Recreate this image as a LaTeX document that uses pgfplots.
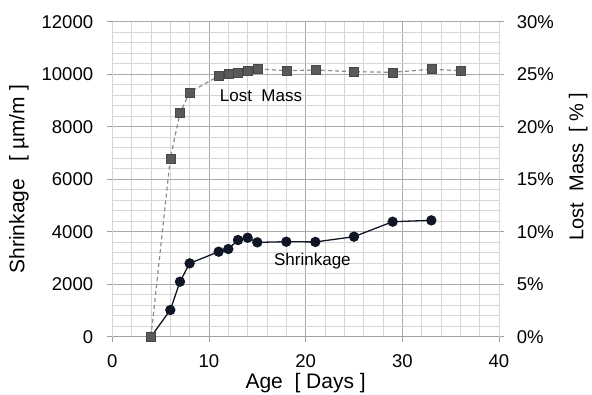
\documentclass[border=0pt]{standalone}
\usepackage{fontspec}
\setmainfont{Liberation Sans}
\usepackage{pgfplots}
\pgfplotsset{compat=1.18}

\definecolor{shrk}{RGB}{16,22,38}
\definecolor{massfill}{RGB}{89,89,89}
\definecolor{massline}{RGB}{140,140,140}
\definecolor{gridmin}{RGB}{214,214,214}
\definecolor{gridmaj}{RGB}{170,170,170}
\definecolor{axgray}{RGB}{160,160,160}

\begin{document}
\begin{tikzpicture}[x=1pt,y=1pt]
\useasboundingbox (0,0) rectangle (592,394);
\begin{axis}[
  at={(112.3pt,57.3pt)}, anchor=south west,
  scale only axis, width=386.7pt, height=315pt,
  xmin=0, xmax=40, ymin=0, ymax=12000,
  clip=false,
  scaled y ticks=false, scaled x ticks=false,
  axis x line*=bottom, axis y line*=left,
  xtick={0,10,20,30,40}, ytick={0,2000,...,12000},
  minor x tick num=4, minor y tick num=4,
  grid=both,
  major grid style={draw=gridmaj, line width=0.9pt},
  minor grid style={draw=gridmin, line width=0.9pt},
  tick align=outside, major tick length=5pt, minor tick length=0pt,
  tick style={draw=axgray, line width=0.8pt},
  x axis line style={draw=axgray, line width=0.9pt, -},
  y axis line style={draw=gridmin, line width=0.9pt, -},
  tick label style={font=\fontsize{18.5}{18.5}\selectfont, text=black},
  /pgf/number format/assume math mode=true,
  /pgf/number format/1000 sep={},
  yticklabel style={anchor=east, inner sep=0pt, xshift=-14pt},
  xticklabel style={anchor=north, inner sep=0pt, yshift=-12.3pt},
  xlabel={Age~~[ Days ]},
  xlabel style={at={(axis description cs:0.5,0)}, anchor=base, yshift=-51.6pt, font=\fontsize{21}{21}\selectfont},
  ylabel={Shrinkage~~~[ µm/m ]},
  ylabel style={at={(axis description cs:-0.2271,0.5)}, anchor=base, font=\fontsize{21}{21}\selectfont},
]
\addplot[color=shrk, line width=1.3pt, mark=*, mark size=4.5pt, mark options={fill=shrk, draw=shrk, solid}]
coordinates {(4,0) (6,1016) (7,2095) (8,2794) (11,3238) (12,3340) (13,3683) (14,3771) (15,3594) (18,3619) (21,3610) (25,3810) (29,4381) (33,4432)};
\node[font=\fontsize{17}{17}\selectfont, inner sep=0pt] at (axis cs:15.38,9189) {Lost~~Mass};
\node[font=\fontsize{17}{17}\selectfont, inner sep=0pt] at (axis cs:20.7,2865) {Shrinkage};
\end{axis}
\begin{axis}[
  at={(112.3pt,57.3pt)}, anchor=south west,
  scale only axis, width=386.7pt, height=315pt,
  xmin=0, xmax=40, ymin=0, ymax=30,
  clip=false,
  hide x axis, axis y line*=right,
  ytick={0,5,...,30},
  yticklabel={\pgfmathprintnumber{\tick}\%},
  tick align=outside, major tick length=5pt, minor tick length=0pt,
  tick style={draw=axgray, line width=0.8pt},
  y axis line style={draw=gridmin, line width=0.9pt, -},
  tick label style={font=\fontsize{18.5}{18.5}\selectfont, text=black},
  /pgf/number format/assume math mode=true,
  yticklabel style={anchor=west, inner sep=0pt, xshift=12.7pt},
  ylabel={Lost~~Mass~~[ \% ]},
  ylabel style={at={(axis description cs:1.2185,0.5403)}, anchor=base, font=\fontsize{20}{20}\selectfont},
]
\addplot[color=massline, line width=1.2pt, dash pattern=on 4pt off 3pt, mark=square*, mark size=4.5pt, mark options={fill=massfill, draw=massfill!80!black, line width=0.6pt, solid}]
coordinates {(4,0) (6,16.99) (7,21.28) (8,23.27) (11,24.83) (12,25.08) (13,25.18) (14,25.3) (15,25.52) (18,25.33) (21,25.4) (25,25.24) (29,25.18) (33,25.47) (36,25.33)};
\end{axis}
\end{tikzpicture}
\end{document}
